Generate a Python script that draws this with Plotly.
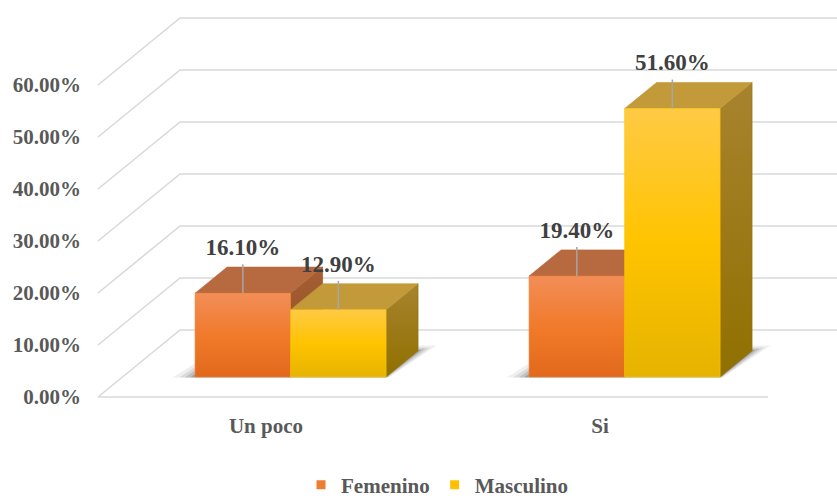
import plotly.graph_objects as go

# ---------------- data ----------------
categories = ["Un poco", "Si"]
series_names = ["Femenino", "Masculino"]
femenino = [0.161, 0.194]
masculino = [0.129, 0.516]
y_ticks = [0.0, 0.1, 0.2, 0.3, 0.4, 0.5, 0.6]

# ---------------- styling / projection ----------------
FONT = "Liberation Serif"
PX_X = 334.0          # pixels per category step
PX_Y = 520.0          # pixels per unit value
SX = 82 / PX_X        # x shift for full depth
SY = 67 / PX_Y        # y shift for full depth
D0, D1 = 0.30, 0.69   # bar depth range
BAR_W = 95.5 / PX_X
WALL_L = -0.503
FLOOR_R = 1.503
BACK_R = 3.0

styles = {
    "Femenino": dict(front=[[0, "#E2691B"], [0.5, "#F17A2B"], [1, "#F28E58"]],
                     top="#B7693F",
                     side=[[0, "#8E4E22"], [1, "#A65E34"]],
                     legend="#ED7D31"),
    "Masculino": dict(front=[[0, "#E6B300"], [0.5, "#FFC400"], [1, "#FFCA45"]],
                      top="#C39A3A",
                      side=[[0, "#907000"], [1, "#A8832F"]],
                      legend="#FFC000"),
}


def P(x, v, d):
    return x + SX * d, v + SY * d


def poly(fig, pts, color=None, grad=None, opacity=1.0, edge=None):
    xs = [p[0] for p in pts] + [pts[0][0]]
    ys = [p[1] for p in pts] + [pts[0][1]]
    kw = dict(x=xs, y=ys, mode="lines", fill="toself", showlegend=False,
              hoverinfo="skip", opacity=opacity,
              line=dict(width=0.6 if edge else 0, color=edge or "rgba(0,0,0,0)"))
    if grad is not None:
        kw["fillgradient"] = dict(type="vertical", colorscale=grad)
    else:
        kw["fillcolor"] = color
    fig.add_trace(go.Scatter(**kw))


fig = go.Figure()

# ---------------- walls / gridlines ----------------
gx, gy = [], []
for t in y_ticks:
    for (x, d) in [(WALL_L, 0), (WALL_L, 1), (BACK_R, 1)]:
        px, py = P(x, t, d)
        gx.append(px)
        gy.append(py)
    gx.append(None)
    gy.append(None)
for (x, d) in [(WALL_L, 0), (FLOOR_R, 0)]:
    px, py = P(x, 0, d)
    gx.append(px)
    gy.append(py)
fig.add_trace(go.Scatter(x=gx, y=gy, mode="lines", showlegend=False, hoverinfo="skip",
                         line=dict(color="#D9D9D9", width=1.6)))

# ---------------- shadows ----------------
for i in range(len(categories)):
    x0 = i - BAR_W
    x1 = i + BAR_W
    for el, er, eb, op in [(0.065, 0.035, 0.08, 0.07), (0.045, 0.025, 0.05, 0.10),
                           (0.028, 0.015, 0.03, 0.15), (0.012, 0.006, 0.012, 0.22)]:
        pts = [P(x0 - el, 0, D0 - 0.01), P(x1 + er * 0.3, 0, D0 - 0.01),
               P(x1 + er, 0, D1 + eb), P(x0 - el + er, 0, D1 + eb)]
        poly(fig, pts, color="#303030", opacity=op)

# ---------------- bars ----------------
values = {"Femenino": femenino, "Masculino": masculino}
label_pts = []
for i in range(len(categories)):
    for k, name in enumerate(series_names):
        v = values[name][i]
        st = styles[name]
        x0 = i - BAR_W + k * BAR_W
        x1 = x0 + BAR_W
        # side face
        poly(fig, [P(x1, 0, D0), P(x1, 0, D1), P(x1, v, D1), P(x1, v, D0)], grad=st["side"],
             edge=st["side"][0][1])
        # top face
        poly(fig, [P(x0, v, D0), P(x1, v, D0), P(x1, v, D1), P(x0, v, D1)], color=st["top"],
             edge=st["top"])
        # front face
        poly(fig, [P(x0, 0, D0), P(x1, 0, D0), P(x1, v, D0), P(x0, v, D0)], grad=st["front"],
             edge=st["front"][1][1])
        cx, cy = P((x0 + x1) / 2, v, D0)
        label_pts.append((cx, cy, v))

# ---------------- leader lines & data labels ----------------
lx, ly = [], []
for cx, cy, v in label_pts:
    lx += [cx, cx, None]
    ly += [cy, cy + 29 / PX_Y, None]
fig.add_trace(go.Scatter(x=lx, y=ly, mode="lines", showlegend=False, hoverinfo="skip",
                         line=dict(color="#A6A6A6", width=1.5)))
fig.add_trace(go.Scatter(
    x=[p[0] for p in label_pts], y=[p[1] + 44 / PX_Y for p in label_pts],
    text=[f"{p[2] * 100:.2f}%" for p in label_pts], mode="text", textposition="middle center",
    showlegend=False, hoverinfo="skip", cliponaxis=False,
    textfont=dict(family=FONT, size=23, color="#404040", weight="bold")))

# ---------------- legend entries ----------------
for name in series_names:
    fig.add_trace(go.Scatter(x=[None], y=[None], mode="markers", name=name,
                             marker=dict(symbol="square", size=9, color=styles[name]["legend"])))

# ---------------- layout ----------------
L, B = 85, 98
x_lo = (L - 266) / PX_X
x_hi = (837 - 266) / PX_X
y_lo = -5 / PX_Y
y_hi = 397 / PX_Y

fig.update_layout(
    width=837, height=500,
    margin=dict(l=L, r=0, t=0, b=B, autoexpand=False),
    paper_bgcolor="white", plot_bgcolor="white",
    font=dict(family=FONT, size=20, color="#595959", weight="bold"),
    xaxis=dict(range=[x_lo, x_hi], tickvals=list(range(len(categories))), ticktext=categories,
               showgrid=False, zeroline=False, showline=False, ticks="",
               ticklabelstandoff=9, fixedrange=True,
               tickfont=dict(family=FONT, size=21, color="#595959", weight="bold")),
    yaxis=dict(range=[y_lo, y_hi], tickvals=y_ticks, tickformat=".2%",
               showgrid=False, zeroline=False, showline=False, ticks="",
               ticklabelstandoff=3, fixedrange=True,
               tickfont=dict(family=FONT, size=21, color="#595959", weight="bold")),
    legend=dict(orientation="h", x=(437 - L) / (837 - L), xanchor="center",
                y=(402 - 485) / 402, yanchor="middle",
                font=dict(family=FONT, size=21, color="#595959", weight="bold"),
                itemwidth=30, tracegroupgap=0),
    showlegend=True,
)

fig.write_html("out.html")
